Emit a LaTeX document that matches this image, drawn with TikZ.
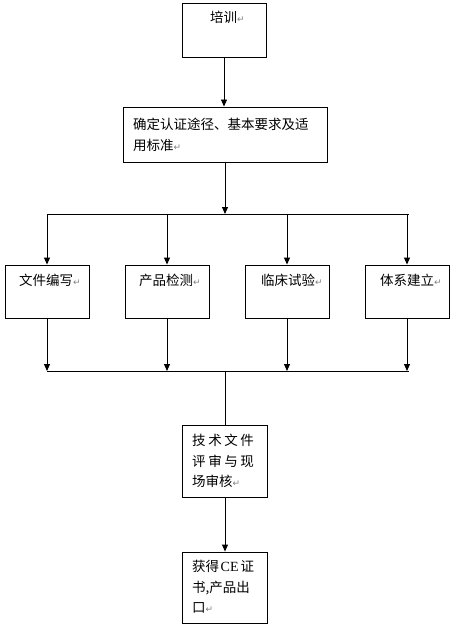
\documentclass[tikz,border=0pt]{standalone}
\usepackage{fontspec}
\setmainfont{Liberation Serif}
\newfontfamily\cjk{Noto Sans CJK SC}
\newfontfamily\symf{DejaVu Sans}
\usetikzlibrary{arrows.meta}
\newcommand{\pmark}{{\symf\fontsize{9}{9}\selectfont\color{gray}↵}}
\newcommand{\gp}{\hspace{2.6pt}}
\begin{document}
\begin{tikzpicture}[x=1pt,y=-1pt,
  box/.style={draw,line width=0.9pt,inner sep=0pt},
  txt/.style={font=\cjk\fontsize{13.5}{20.5}\selectfont,inner sep=0pt,align=left,anchor=north west},
  conn/.style={line width=0.9pt},
  arr/.style={line width=0.9pt,-{Triangle[length=7pt,width=6pt]}}]
\useasboundingbox (0,0) rectangle (459,631);
% boxes
\node[box,minimum width=84,minimum height=54] (train) at (224,30) {};
\node[box,minimum width=204,minimum height=55] (std) at (225,134.5) {};
\node[box,minimum width=84,minimum height=53] (ba) at (47,291.5) {};
\node[box,minimum width=84,minimum height=53] (bb) at (167,291.5) {};
\node[box,minimum width=84,minimum height=53] (bc) at (287,291.5) {};
\node[box,minimum width=84,minimum height=53] (bd) at (407,291.5) {};
\node[box,minimum width=85,minimum height=72] (rev) at (225,461) {};
\node[box,minimum width=85,minimum height=71] (cert) at (225,587.5) {};
% texts
\node[txt] (ttrain) at (210,11) {培训\pmark};
\node[txt] (tstd) at (133,118) {确定认证途径、基本要求及适\\用标准\pmark};
\node[txt] (ta) at (19,274) {文件编写\pmark};
\node[txt] (tb) at (139,274) {产品检测\pmark};
\node[txt] (tc) at (261,274) {临床试验\pmark};
\node[txt] (td) at (380,274) {体系建立\pmark};
\node[txt] (trev) at (192,434) {技\gp 术\gp 文\gp 件\\评\gp 审\gp 与\gp 现\\场审核\pmark};
\node[txt] (tcert) at (192,560) {获得\hspace{1.5pt}{\rmfamily\fontsize{14}{14}\selectfont CE}\hspace{2pt}证\\书,产品出\\口\pmark};
% junctions
\coordinate (j1) at (225,214);
\coordinate (l1) at (47,214);
\coordinate (r1) at (409,214);
\coordinate (j2) at (225,371);
\coordinate (l2) at (47,371);
\coordinate (r2) at (409,371);
% connectors
\draw[arr] (train.south) -- (train.south |- std.north);
\draw[arr] (std.south) -- (j1);
\draw[conn] (l1) -- (r1);
\draw[arr] (ba.north |- j1) -- (ba.north);
\draw[arr] (bb.north |- j1) -- (bb.north);
\draw[arr] (bc.north |- j1) -- (bc.north);
\draw[arr] (bd.north |- j1) -- (bd.north);
\draw[arr] (ba.south) -- (ba.south |- j2);
\draw[arr] (bb.south) -- (bb.south |- j2);
\draw[arr] (bc.south) -- (bc.south |- j2);
\draw[arr] (bd.south) -- (bd.south |- j2);
\draw[conn] (l2) -- (r2);
\draw[conn] (j2) -- (rev.north);
\draw[arr] (rev.south) -- (cert.north);
\end{tikzpicture}
\end{document}
